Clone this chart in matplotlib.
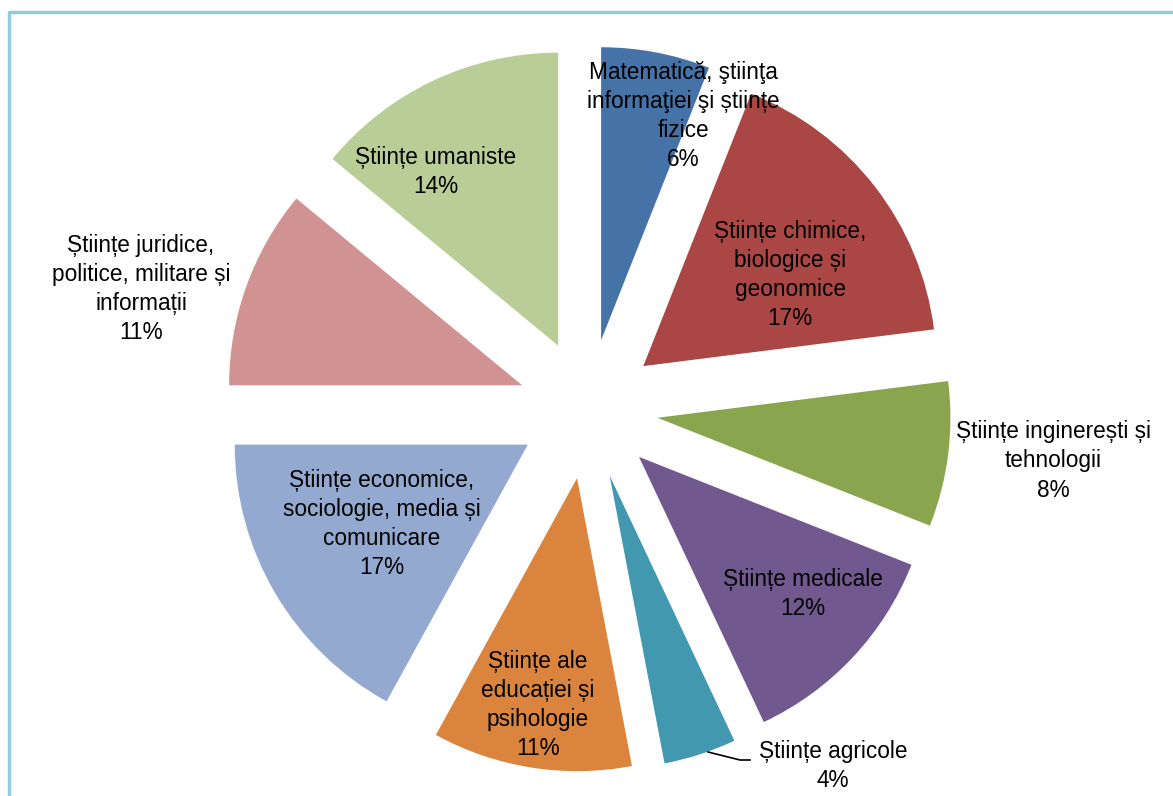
import matplotlib
matplotlib.use("Agg")
import matplotlib.pyplot as plt

categories = [
    "Matematică, ştiinţa\ninformaţiei şi științe\nfizice",
    "Științe chimice,\nbiologice și\ngeonomice",
    "Științe inginerești și\ntehnologii",
    "Științe medicale",
    "Științe agricole",
    "Științe ale\neducației și\npsihologie",
    "Științe economice,\nsociologie, media și\ncomunicare",
    "Științe juridice,\npolitice, militare și\ninformații",
    "Științe umaniste",
]
values = [6, 17, 8, 12, 4, 11, 17, 11, 14]
colors = ["#4572A7", "#AA4643", "#89A54E", "#71588F", "#4198AF",
          "#DB843D", "#93A9CF", "#D19392", "#B9CD96"]

W, H = 1173, 796
fig = plt.figure(figsize=(W / 100, H / 100), dpi=100)
ax = fig.add_axes([0, 0, 1, 1])

cx, cy, R = 588, H - 409, 293
ax.pie(values, colors=colors, startangle=90, counterclock=False,
       center=(cx, cy), radius=R, explode=[70] * len(values),
       wedgeprops=dict(linewidth=0))

ax.set_xlim(0, W)
ax.set_ylim(0, H)
ax.set_aspect("equal")
ax.axis("off")

# label positions (pixel coordinates, centre of text block)
label_pos = [(683, 116), (790, 275), (1053, 461), (803, 594), (833, 766),
             (538, 705), (382, 524), (141, 289), (436, 172)]
for cat, v, (x, y) in zip(categories, values, label_pos):
    ax.text(x, H - y, f"{cat}\n{v}%", ha="center", va="center",
            fontsize=16.3, family="Liberation Sans", linespacing=1.34,
            color="black")

# leader line for the small slice
ax.plot([708, 740, 750], [H - 752, H - 760, H - 760], color="black", lw=1.2)

# frame
ax.plot([8.5, 8.5, W], [0, H - 11.5, H - 11.5], color="#93CDDD", lw=2.5,
        solid_capstyle="butt")

fig.savefig("out.png", dpi=100)
